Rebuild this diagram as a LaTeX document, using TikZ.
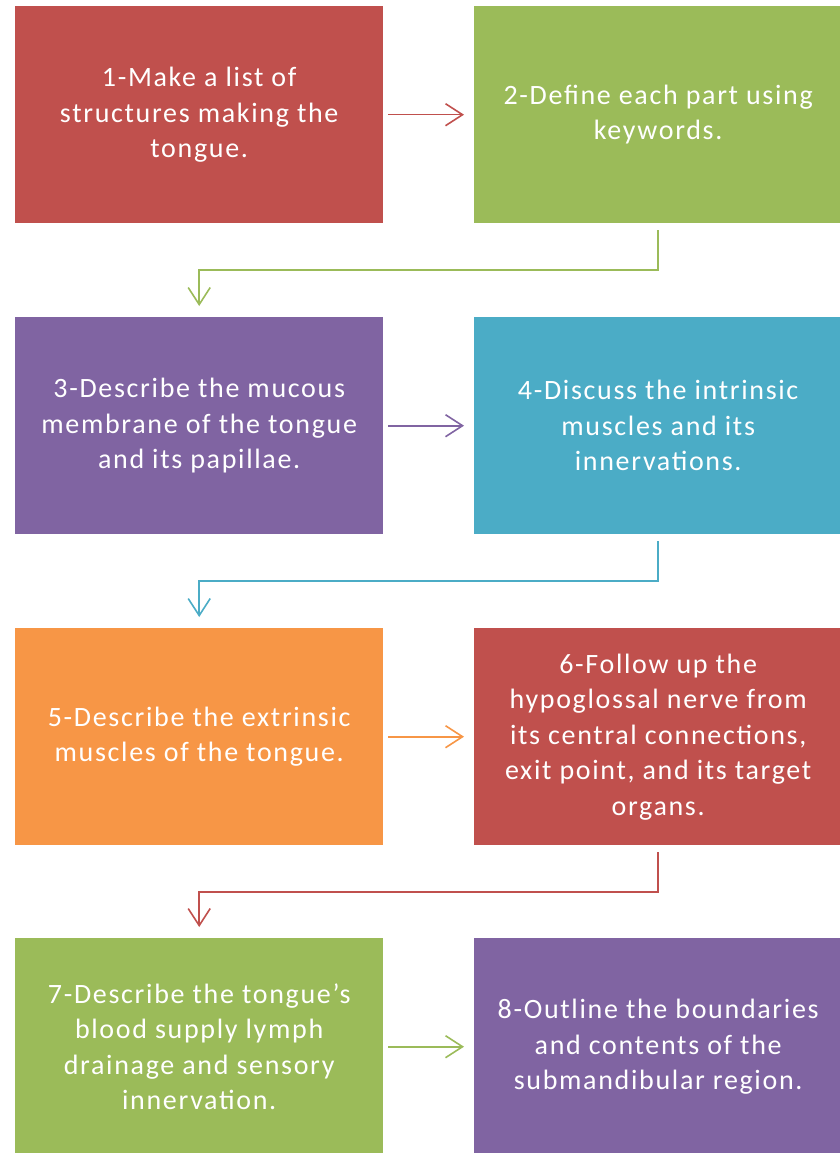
\documentclass[tikz,border=0pt]{standalone}
\usepackage{fontspec}
\setmainfont{Carlito}[LetterSpace=6]
\usetikzlibrary{arrows.meta,calc}
\definecolor{cred}{HTML}{C0504D}
\definecolor{cgreen}{HTML}{9BBB59}
\definecolor{cpurple}{HTML}{8064A2}
\definecolor{cteal}{HTML}{4BACC6}
\definecolor{corange}{HTML}{F79646}
\begin{document}
\begin{tikzpicture}[x=1pt,y=1pt,
  stepbox/.style={anchor=north west, minimum width=368pt, minimum height=217pt, inner sep=0pt,
    text=white, align=center, font=\fontsize{28}{35.5}\selectfont},
  conn/.style={line width=1.6pt, -{Straight Barb[length=17pt,width=22pt,line width=1.6pt]}},
  hconn/.style={conn, shorten <=5pt, shorten >=10pt},
  vconn/.style={conn, shorten <=7pt, shorten >=11pt}]
\useasboundingbox (0,0) rectangle (840,-1153);
\node[stepbox, fill=cred] (b1) at (15,-6) {1-Make a list of\\structures making the\\tongue.};
\node[stepbox, fill=cgreen] (b2) at (474,-6) {2-Define each part using\\keywords.};
\node[stepbox, fill=cpurple] (b3) at (15,-317) {3-Describe the mucous\\membrane of the tongue\\and its papillae.};
\node[stepbox, fill=cteal] (b4) at (474,-317) {4-Discuss the intrinsic\\muscles and its\\innervations.};
\node[stepbox, fill=corange] (b5) at (15,-628) {5-Describe the extrinsic\\muscles of the tongue.};
\node[stepbox, fill=cred] (b6) at (474,-628) {6-Follow up the\\hypoglossal nerve from\\its central connections,\\exit point, and its target\\organs.};
\node[stepbox, fill=cgreen] (b7) at (15,-938) {7-Describe the tongue’s\\blood supply lymph\\drainage and sensory\\innervation.};
\node[stepbox, fill=cpurple] (b8) at (474,-938) {8-Outline the boundaries\\and contents of the\\submandibular region.};
\draw[hconn, cred] (b1.east) -- (b2.west);
\draw[hconn, cpurple] (b3.east) -- (b4.west);
\draw[hconn, corange] (b5.east) -- (b6.west);
\draw[hconn, cgreen] (b7.east) -- (b8.west);
\draw[vconn, cgreen] (b2.south) |- ($(b2.south)!0.5!(b3.north)$) -| (b3.north);
\draw[vconn, cteal] (b4.south) |- ($(b4.south)!0.5!(b5.north)$) -| (b5.north);
\draw[vconn, cred] (b6.south) |- ($(b6.south)!0.5!(b7.north)$) -| (b7.north);
\end{tikzpicture}
\end{document}
